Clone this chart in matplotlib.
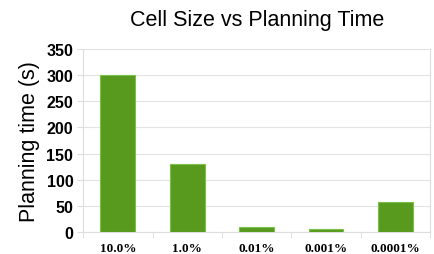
import matplotlib.pyplot as plt
import numpy as np

cells = ["10.0%", "1.0%", "0.01%", "0.001%", "0.0001%"]
times = [300, 130, 10, 6, 57]

fig = plt.figure(figsize=(4.35, 2.55), dpi=100)
ax = fig.add_axes([0.191, 0.086, 0.798, 0.718])
ind = np.arange(len(cells))
ax.bar(ind, times, 0.5, color="#589a1d", edgecolor="#7cc04a", linewidth=0.8, zorder=5)
ax.set_xlim(-0.5, len(cells) - 0.5)
ax.set_ylim(0, 350)
ax.set_yticks(np.arange(0, 351, 50))
ax.set_xticks(ind)
ax.set_xticklabels(cells, fontfamily="Liberation Serif", fontweight="bold", fontsize=9.5)
ax.set_xticks(np.arange(-0.5, len(cells), 1), minor=True)
ax.tick_params(axis="x", which="major", length=0, pad=7)
ax.tick_params(axis="x", which="minor", length=4, color="#dddddd")
ax.tick_params(axis="y", length=4, color="#dddddd", pad=3)
for lbl in ax.get_yticklabels():
    lbl.set_fontfamily("Liberation Sans")
    lbl.set_fontweight("bold")
    lbl.set_fontsize(11.5)
ax.grid(axis="y", color="#e3e3e3", linewidth=0.8, zorder=0)
ax.spines["top"].set_visible(False)
for s in ["left", "right", "bottom"]:
    ax.spines[s].set_color("#dddddd")
ax.set_ylabel("Planning time (s)", fontfamily="Liberation Sans", fontsize=15.5, labelpad=5)
ax.set_title("Cell Size vs Planning Time", fontfamily="Liberation Sans", fontsize=15.5, pad=17)
fig.savefig("out.png", dpi=100)
